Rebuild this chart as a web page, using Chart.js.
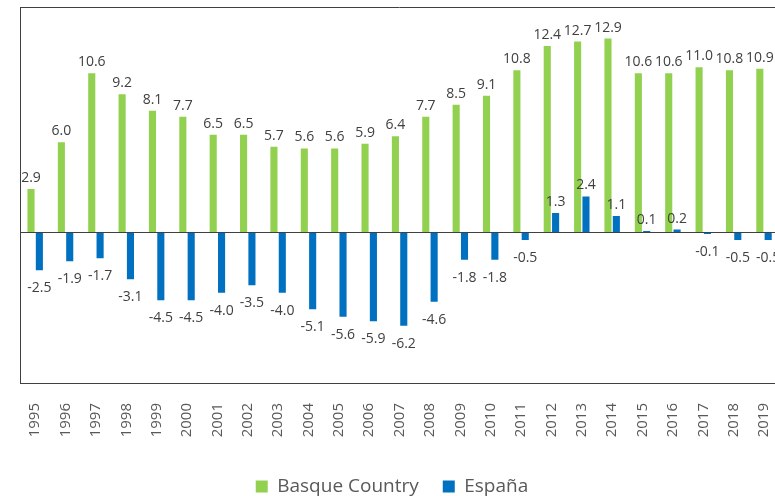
<!DOCTYPE html>
<html>
<head>
<meta charset="utf-8">
<script src="https://cdn.jsdelivr.net/npm/chart.js@4.4.1/dist/chart.umd.min.js"></script>
<style>
  html, body { margin: 0; padding: 0; background: #fff; overflow: hidden; }
  #wrap { width: 794px; height: 496px; }
</style>
</head>
<body>
<div id="wrap"><canvas id="chart" width="794" height="496"></canvas></div>
<script>
const years = ['1995', '1996', '1997', '1998', '1999', '2000', '2001', '2002', '2003', '2004',
    '2005', '2006', '2007', '2008', '2009', '2010', '2011', '2012', '2013', '2014',
    '2015', '2016', '2017', '2018', '2019'];
const basque = [2.9, 6.0, 10.6, 9.2, 8.1, 7.7, 6.5, 6.5, 5.7, 5.6,
    5.6, 5.9, 6.4, 7.7, 8.5, 9.1, 10.8, 12.4, 12.7, 12.9,
    10.6, 10.6, 11.0, 10.8, 10.9];
const espana = [-2.5, -1.9, -1.7, -3.1, -4.5, -4.5, -4.0, -3.5, -4.0, -5.1,
    -5.6, -5.9, -6.2, -4.6, -1.8, -1.8, -0.5, 1.3, 2.4, 1.1,
    0.1, 0.2, -0.1, -0.5, -0.5];

const frameColor = '#404040';

// value labels above / below each bar
const barLabels = {
    id: 'barLabels',
    afterDatasetsDraw(chart) {
        const ctx = chart.ctx;
        ctx.save();
        ctx.font = '14px "Open Sans"';
        ctx.fillStyle = '#404040';
        ctx.textAlign = 'center';
        chart.data.datasets.forEach((ds, i) => {
            const meta = chart.getDatasetMeta(i);
            meta.data.forEach((bar, j) => {
                const v = ds.data[j];
                const txt = v.toFixed(1);
                if (v >= 0) {
                    ctx.textBaseline = 'bottom';
                    ctx.fillText(txt, bar.x, bar.y - 4);
                } else {
                    ctx.textBaseline = 'top';
                    ctx.fillText(txt, bar.x, bar.y + 11);
                }
            });
        });
        ctx.restore();
    }
};

// top frame line, and nudge the legend a bit to the left
const frame = {
    id: 'frame',
    afterLayout(chart) {
        chart.legend.left -= 15;
        chart.legend.right -= 15;
    },
    afterDraw(chart) {
        const { ctx, chartArea } = chart;
        ctx.save();
        ctx.strokeStyle = frameColor;
        ctx.lineWidth = 1;
        ctx.beginPath();
        ctx.moveTo(chartArea.left, chartArea.top + 0.5);
        ctx.lineTo(chartArea.right, chartArea.top + 0.5);
        ctx.stroke();
        ctx.restore();
    }
};

new Chart(document.getElementById('chart'), {
    type: 'bar',
    data: {
        labels: years,
        datasets: [
            {
                label: 'Basque Country',
                data: basque,
                backgroundColor: '#92D050',
                borderWidth: 0,
                categoryPercentage: 0.55,
                barPercentage: 0.85,
            },
            {
                label: 'España',
                data: espana,
                backgroundColor: '#0070C0',
                borderWidth: 0,
                categoryPercentage: 0.55,
                barPercentage: 0.85,
            },
        ],
    },
    options: {
        responsive: false,
        animation: false,
        devicePixelRatio: 1,
        layout: { padding: { left: 20, top: 7, right: 0, bottom: -10 } },
        plugins: {
            legend: {
                position: 'bottom',
                labels: {
                    boxWidth: 12,
                    boxHeight: 12,
                    padding: 24,
                    color: '#595959',
                    font: { family: 'Open Sans', size: 19 },
                },
            },
            tooltip: { enabled: false },
        },
        scales: {
            x: {
                grid: { display: false },
                border: { display: true, color: frameColor, width: 1 },
                ticks: {
                    minRotation: 90,
                    maxRotation: 90,
                    padding: 12,
                    color: '#595959',
                    font: { family: 'Open Sans', size: 15 },
                },
                afterFit(s) { s.height = 70; },
            },
            y: {
                min: -10,
                max: 15,
                ticks: { display: false, stepSize: 5 },
                grid: {
                    drawTicks: false,
                    color: c => (c.tick && c.tick.value === 0 ? frameColor : 'rgba(0,0,0,0)'),
                },
                border: { display: true, color: frameColor, width: 1 },
                afterFit(s) { s.width = 0; },
            },
        },
    },
    plugins: [barLabels, frame],
});
</script>
</body>
</html>
